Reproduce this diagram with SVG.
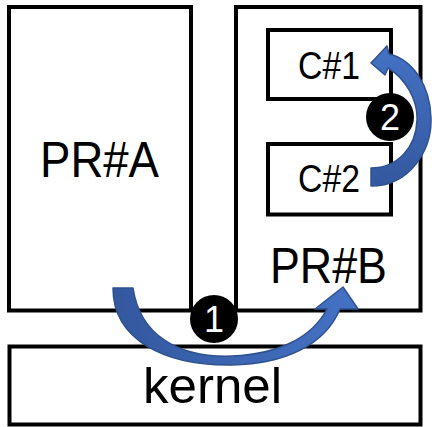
<svg xmlns="http://www.w3.org/2000/svg" width="432" height="427" viewBox="0 0 432 427">
<defs>
<style>
.box{fill:#fff;stroke:#000;stroke-width:4}
.lbl{font-family:"Liberation Sans",Arial,sans-serif;fill:#000;text-anchor:middle}
.num{font-family:"Liberation Sans",Arial,sans-serif;fill:#fff;text-anchor:middle;font-size:36px}
.badge{fill:#000}
.arrow{stroke:#2F528F;stroke-width:1.5;stroke-linejoin:round}
</style>
<linearGradient id="g1" x1="0" y1="0" x2="1" y2="0">
<stop offset="0" stop-color="#34589F"/>
<stop offset="1" stop-color="#4472C4"/>
</linearGradient>
<linearGradient id="g2" x1="0" y1="1" x2="0" y2="0">
<stop offset="0" stop-color="#34589F"/>
<stop offset="1" stop-color="#4472C4"/>
</linearGradient>
</defs>
<g id="PRA">
<rect class="box" x="9" y="7" width="182" height="303.5"/>
<text class="lbl" x="99.5" y="177" font-size="50" textLength="119" lengthAdjust="spacingAndGlyphs">PR#A</text>
</g>
<g id="PRB">
<rect class="box" x="236" y="7" width="184.5" height="303.5"/>
<text class="lbl" x="328.5" y="283" font-size="50" textLength="117" lengthAdjust="spacingAndGlyphs">PR#B</text>
</g>
<g id="C1">
<rect class="box" x="268" y="30" width="123" height="69"/>
<text class="lbl" x="329" y="79" font-size="38" textLength="62" lengthAdjust="spacingAndGlyphs">C#1</text>
</g>
<g id="C2">
<rect class="box" x="268" y="144" width="123" height="70.5"/>
<text class="lbl" x="329" y="192" font-size="38" textLength="62" lengthAdjust="spacingAndGlyphs">C#2</text>
</g>
<g id="kernel">
<rect class="box" x="9.5" y="346.5" width="411" height="78"/>
<text class="lbl" x="212.5" y="403" font-size="50" textLength="139" lengthAdjust="spacingAndGlyphs">kernel</text>
</g>
<g id="connectors">
<path class="arrow" fill="url(#g1)" d="M 113 288 C 113 340, 165 366, 232 365 C 285 364, 325 345, 340 309 L 358 309 L 343 287 L 315 309 L 327 309 C 312 337, 280 354, 232 356 C 178 358, 140 335, 133 288 Z"/>
<path class="arrow" fill="url(#g2)" d="M 371 186 C 410 186, 432 150, 431 118 C 430 85, 413 60, 389 54 L 387 46 L 371 63 L 385 75 L 388 68 C 405 78, 418 100, 417 120 C 416 148, 397 168, 371 168 Z"/>
</g>
<g id="badge1">
<circle class="badge" cx="214" cy="319" r="24"/>
<text class="num" x="214" y="332">1</text>
</g>
<g id="badge2">
<circle class="badge" cx="390" cy="117" r="24"/>
<text class="num" x="390" y="130">2</text>
</g>
</svg>
